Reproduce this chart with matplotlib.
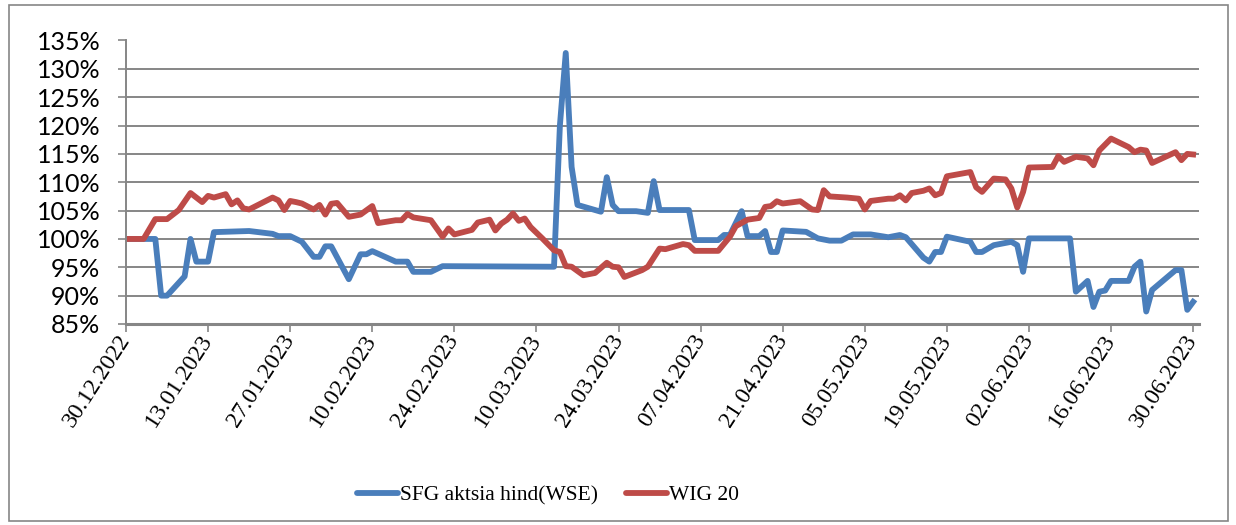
from matplotlib import pyplot as plt
import matplotlib.dates as mdates
from matplotlib.patches import Rectangle
import numpy as np
import pandas as pd

# SFG share price, % of 30.12.2022 level
sfg_dates = ['2022-12-30', '2023-01-04', '2023-01-05', '2023-01-06', '2023-01-09', '2023-01-10',
             '2023-01-11', '2023-01-13', '2023-01-14', '2023-01-20', '2023-01-24', '2023-01-25',
             '2023-01-27', '2023-01-29', '2023-01-31', '2023-02-01', '2023-02-02', '2023-02-03',
             '2023-02-06', '2023-02-08', '2023-02-09', '2023-02-10', '2023-02-14', '2023-02-16',
             '2023-02-17', '2023-02-20', '2023-02-22', '2023-03-13', '2023-03-14', '2023-03-15',
             '2023-03-16', '2023-03-17', '2023-03-21', '2023-03-22', '2023-03-23', '2023-03-24',
             '2023-03-27', '2023-03-29', '2023-03-30', '2023-03-31', '2023-04-05', '2023-04-06',
             '2023-04-10', '2023-04-11', '2023-04-12', '2023-04-14', '2023-04-15', '2023-04-17',
             '2023-04-18', '2023-04-19', '2023-04-20', '2023-04-21', '2023-04-25', '2023-04-27',
             '2023-04-29', '2023-05-01', '2023-05-03', '2023-05-06', '2023-05-09', '2023-05-11',
             '2023-05-12', '2023-05-15', '2023-05-16', '2023-05-17', '2023-05-18', '2023-05-19',
             '2023-05-23', '2023-05-24', '2023-05-25', '2023-05-27', '2023-05-29', '2023-05-30',
             '2023-05-31', '2023-06-01', '2023-06-02', '2023-06-09', '2023-06-10', '2023-06-12',
             '2023-06-13', '2023-06-14', '2023-06-15', '2023-06-16', '2023-06-19', '2023-06-20',
             '2023-06-21', '2023-06-22', '2023-06-23', '2023-06-27', '2023-06-28', '2023-06-29',
             '2023-06-30']
sfg_vals = [100, 100, 90, 90, 93.4, 100,
            96, 96, 101.2, 101.4, 100.9, 100.5,
            100.5, 99.5, 96.85, 96.85, 98.7, 98.7,
            92.9, 97.3, 97.3, 97.85, 96.0, 96.0,
            94.2, 94.2, 95.2, 95.1, 120, 132.8,
            112.7, 106, 104.8, 110.9, 106.0, 104.9,
            104.9, 104.6, 110.2, 105.1, 105.1, 99.8,
            99.8, 100.7, 100.7, 104.9, 100.5, 100.5,
            101.4, 97.7, 97.7, 101.5, 101.25, 100.1,
            99.7, 99.7, 100.8, 100.8, 100.3, 100.7,
            100.3, 96.7, 96.0, 97.7, 97.7, 100.4,
            99.5, 97.7, 97.7, 98.9, 99.3, 99.5,
            98.9, 94.2, 100.1, 100.1, 90.7, 92.6,
            88.0, 90.7, 90.9, 92.6, 92.6, 95.1,
            96.0, 87.2, 91.0, 94.5, 94.5, 87.5,
            88.9]

# WIG 20 index, % of 30.12.2022 level
wig_dates = ['2022-12-30', '2023-01-02', '2023-01-04', '2023-01-06', '2023-01-08', '2023-01-10',
             '2023-01-12', '2023-01-13', '2023-01-14', '2023-01-16', '2023-01-17', '2023-01-18',
             '2023-01-19', '2023-01-20', '2023-01-24', '2023-01-25', '2023-01-26', '2023-01-27',
             '2023-01-28', '2023-01-29', '2023-01-31', '2023-02-01', '2023-02-02', '2023-02-03',
             '2023-02-04', '2023-02-06', '2023-02-08', '2023-02-10', '2023-02-11', '2023-02-14',
             '2023-02-15', '2023-02-16', '2023-02-17', '2023-02-20', '2023-02-22', '2023-02-23',
             '2023-02-24', '2023-02-27', '2023-02-28', '2023-03-02', '2023-03-03', '2023-03-04',
             '2023-03-05', '2023-03-06', '2023-03-07', '2023-03-08', '2023-03-09', '2023-03-11',
             '2023-03-13', '2023-03-14', '2023-03-15', '2023-03-16', '2023-03-18', '2023-03-20',
             '2023-03-22', '2023-03-23', '2023-03-24', '2023-03-25', '2023-03-28', '2023-03-29',
             '2023-03-31', '2023-04-01', '2023-04-04', '2023-04-05', '2023-04-06', '2023-04-10',
             '2023-04-12', '2023-04-13', '2023-04-15', '2023-04-17', '2023-04-18', '2023-04-19',
             '2023-04-20', '2023-04-21', '2023-04-24', '2023-04-26', '2023-04-27', '2023-04-28',
             '2023-04-29', '2023-05-02', '2023-05-04', '2023-05-05', '2023-05-06', '2023-05-09',
             '2023-05-10', '2023-05-11', '2023-05-12', '2023-05-13', '2023-05-15', '2023-05-16',
             '2023-05-17', '2023-05-18', '2023-05-19', '2023-05-23', '2023-05-24', '2023-05-25',
             '2023-05-27', '2023-05-29', '2023-05-30', '2023-05-31', '2023-06-01', '2023-06-02',
             '2023-06-06', '2023-06-07', '2023-06-08', '2023-06-10', '2023-06-12', '2023-06-13',
             '2023-06-14', '2023-06-16', '2023-06-19', '2023-06-20', '2023-06-21', '2023-06-22',
             '2023-06-23', '2023-06-27', '2023-06-28', '2023-06-29', '2023-06-30']
wig_vals = [100, 100, 103.5, 103.5, 105.1, 108.1,
            106.5, 107.6, 107.3, 107.9, 106.1, 106.8,
            105.4, 105.2, 107.3, 106.8, 105.1, 106.7,
            106.5, 106.25, 105.2, 106.0, 104.3, 106.2,
            106.35, 103.9, 104.3, 105.8, 102.8, 103.3,
            103.3, 104.4, 103.8, 103.3, 100.4, 101.85,
            100.8, 101.6, 102.9, 103.4, 101.5, 102.7,
            103.4, 104.5, 103.2, 103.6, 102.1, 100.1,
            98.0, 97.7, 95.2, 95.1, 93.6, 94.0,
            95.8, 95.1, 95.0, 93.3, 94.5, 95.1,
            98.3, 98.2, 99.1, 98.9, 97.9, 97.9,
            100.4, 102.25, 103.4, 103.7, 105.65, 105.8,
            106.65, 106.25, 106.65, 105.2, 105.1, 108.6,
            107.5, 107.3, 107.1, 105.2, 106.7, 107.1,
            107.1, 107.7, 106.8, 108.1, 108.5, 108.9,
            107.7, 108.1, 111.05, 111.8, 109.1, 108.3,
            110.65, 110.5, 108.9, 105.55, 108.3, 112.6,
            112.7, 114.6, 113.6, 114.5, 114.2, 113.0,
            115.6, 117.7, 116.2, 115.3, 115.75, 115.6,
            113.4, 115.3, 113.9, 115.0, 114.9]

y_ticks = [85, 90, 95, 100, 105, 110, 115, 120, 125, 130, 135]
x_ticks = pd.date_range('2022-12-30', '2023-06-30', freq='14D')

grid_col = '#868686'

fig = plt.figure(figsize=(12.36, 5.25), dpi=100)
ax = fig.add_axes([126/1236, 1 - 324/525, (1199 - 126)/1236, (324 - 40.5)/525])

ax.plot(pd.to_datetime(sfg_dates), sfg_vals, color='#4a7ebb', lw=4.2,
        solid_joinstyle='round', label='SFG aktsia hind(WSE)')
ax.plot(pd.to_datetime(wig_dates), wig_vals, color='#be4b48', lw=4.2,
        solid_joinstyle='round', label='WIG 20')

ax.set_ylim(85, 135)
ax.set_yticks(y_ticks)
ax.set_yticklabels([f'{v}%' for v in y_ticks], fontsize=18, family='Lato')
ax.set_xlim(pd.Timestamp('2022-12-30'), pd.Timestamp('2023-07-01'))
ax.set_xticks(x_ticks)
ax.xaxis.set_major_formatter(mdates.DateFormatter('%d.%m.%Y'))
for lbl in ax.get_xticklabels():
    lbl.set_rotation(57)
    lbl.set_ha('right')
    lbl.set_va('center')
    lbl.set_rotation_mode('anchor')
    lbl.set_family('Liberation Serif')
    lbl.set_fontsize(17)

ax.grid(axis='y', color=grid_col, lw=1.4)
ax.set_axisbelow(True)
ax.tick_params(axis='y', direction='out', length=6, width=1.2, color=grid_col, pad=12.5)
ax.tick_params(axis='x', direction='out', length=6, width=1.2, color=grid_col, pad=3)
for s in ['top', 'right']:
    ax.spines[s].set_visible(False)
ax.spines['left'].set_color(grid_col)
ax.spines['left'].set_linewidth(1.4)
ax.spines['bottom'].set_color(grid_col)
ax.spines['bottom'].set_linewidth(2.2)

leg = fig.legend(loc='center', bbox_to_anchor=(548/1236, 1 - 495/525), ncol=2, frameon=False,
                 prop={'family': 'Liberation Serif', 'size': 15.5}, handlelength=1.9,
                 handletextpad=0.1, columnspacing=1.3)
for h in leg.get_lines():
    h.set_solid_capstyle('round')

fig.patches.append(Rectangle((9/1236, 4/525), 1219/1236, 516/525, transform=fig.transFigure,
                             fill=False, edgecolor=grid_col, lw=1.2))

plt.savefig('out.png')
